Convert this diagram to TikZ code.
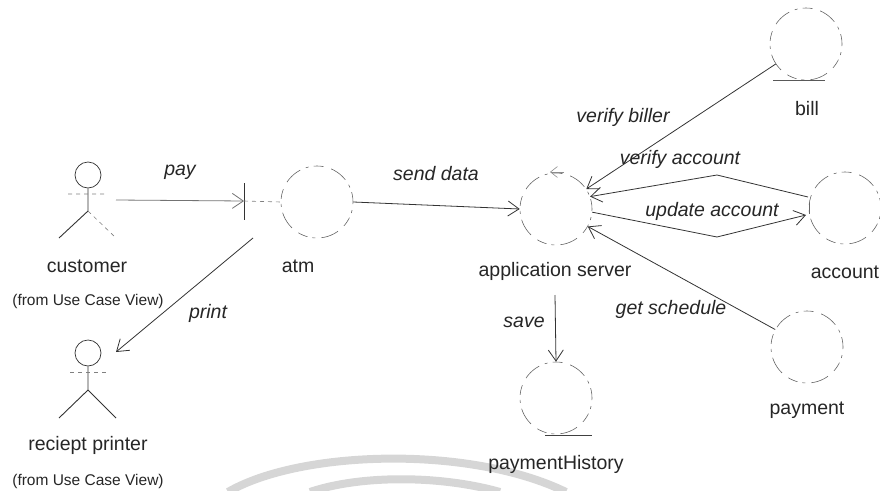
\documentclass[tikz,border=0pt]{standalone}
\usepackage{fontspec}
\setmainfont{Liberation Sans}
\usetikzlibrary{arrows.meta}
\tikzset{
  x=1pt,y=-1pt,
  lbl/.style={font=\fontsize{19.5}{21}\selectfont,text=black!85,inner sep=0pt},
  msg/.style={font=\fontsize{19.5}{21}\selectfont\itshape,text=black!85,inner sep=0pt},
  note/.style={font=\fontsize{15.5}{17}\selectfont,text=black!85,inner sep=0pt},
  obj/.style={circle,minimum size=72pt,inner sep=0pt,draw=black!60,line width=0.6pt,dash pattern=on 10pt off 5pt on 3pt off 6pt on 18pt off 8pt},
  head/.style={circle,minimum size=26pt,inner sep=0pt,draw=black!80,line width=0.7pt},
  limb/.style={draw=black!80,line width=0.9pt},
  faint/.style={draw=black!50,line width=0.6pt,dash pattern=on 4pt off 4pt},
  conn/.style={draw=black!80,line width=0.8pt,-{Straight Barb[length=11pt,width=15pt]}},
  wm/.style={draw=black!16,line width=8pt}
}
\begin{document}
\begin{tikzpicture}
\useasboundingbox (0,0) rectangle (880,490);
% watermark
\draw[wm] (228,492) .. controls (300,450) and (470,445) .. (566,492);
\draw[wm] (310,492) .. controls (360,475) and (440,475) .. (500,492);
% actors
\node[head] (cust) at (88,175) {};
\coordinate (custhip) at (88,211);
\coordinate (custarmL) at (68,194);
\coordinate (custarmR) at (104,194);
\coordinate (custlegL) at (59,238);
\coordinate (custlegR) at (116,238);
\draw[limb] (cust) -- (custhip) (custhip) -- (custlegL);
\draw[faint] (custarmL) -- (custarmR) (custhip) -- (custlegR);
\node[head] (prn) at (88,353) {};
\coordinate (prnhip) at (88,390);
\coordinate (prnarmL) at (70,372);
\coordinate (prnarmR) at (108,372);
\coordinate (prnlegL) at (59,418);
\coordinate (prnlegR) at (116,418);
\draw[limb] (prn) -- (prnhip) (prnhip) -- (prnlegL) (prnhip) -- (prnlegR);
\draw[faint] (prnarmL) -- (prnarmR);
% objects
\node[obj] (atm) at (317,202) {};
\node[obj] (app) at (556,209) {};
\node[obj] (bill) at (806,44) {};
\node[obj] (acct) at (845,208) {};
\node[obj] (pay) at (807,347) {};
\node[obj] (hist) at (556,398) {};
% boundary and entity marks
\coordinate (atmT) at (244,183);
\coordinate (atmB) at (244,220);
\coordinate (atmM) at (244,201);
\draw[limb] (atmT) -- (atmB);
\draw[faint] (atmM) -- (atm.180);
\coordinate (acT) at (809,203);
\coordinate (acB) at (809,214);
\draw[draw=black!60,line width=0.9pt] (acT) -- (acB);
\coordinate (billU1) at (773,80);
\coordinate (billU2) at (825,80);
\draw[draw=black!65,line width=0.8pt] (billU1) -- (billU2);
\coordinate (histU1) at (545,435);
\coordinate (histU2) at (592,435);
\draw[draw=black!75,line width=0.8pt] (histU1) -- (histU2);
% control arrow on application server
\coordinate (ctlA) at (564,172);
\coordinate (ctlB) at (550,172);
\draw[draw=black!45,line width=0.6pt,-{Straight Barb[length=7pt,width=11pt]}] (ctlA) -- (ctlB);
% connectors
\coordinate (payS) at (116,200);
\coordinate (printS) at (253,238);
\coordinate (printE) at (116,352);
\coordinate (va1) at (808,197);
\coordinate (va2) at (717,175);
\coordinate (ua1) at (717,237);
\coordinate (ua2) at (806,215);
\coordinate (saveS) at (555,295);
\draw[conn,draw=black!55] (payS) -- (atmM);
\draw[conn] (printS) -- (printE);
\draw[conn] (atm.0) -- (app.180);
\draw[conn] (bill) -- (app);
\draw[conn] (va1) -- (va2) -- (app.20);
\draw[conn] (app.-5) -- (ua1) -- (ua2);
\draw[conn] (pay) -- (app);
\draw[conn] (saveS) -- (hist.north);
% labels
\node[lbl] (lcust) at (87,266) {customer};
\node[note] (lcustf) at (88,301) {(from Use Case View)};
\node[lbl] (lprn) at (88,445) {reciept printer};
\node[note] (lprnf) at (88,481) {(from Use Case View)};
\node[lbl] (latm) at (298,266) {atm};
\node[lbl] (lapp) at (555,271) {application server};
\node[lbl] (lbill) at (807,109) {bill};
\node[lbl] (lacct) at (845,272) {account};
\node[lbl] (lpay) at (807,410) {payment};
\node[lbl] (lhist) at (556,464) {paymentHistory};
\node[msg] (mpay) at (180,172) {pay};
\node[msg] (mprint) at (208,313) {print};
\node[msg] (msend) at (436,174) {send data};
\node[msg] (mbill) at (623,117) {verify biller};
\node[msg] (mva) at (680,159) {verify account};
\node[msg] (mua) at (712,211) {update account};
\node[msg] (msave) at (524,322) {save};
\node[msg] (msch) at (671,309) {get schedule};
\end{tikzpicture}
\end{document}
